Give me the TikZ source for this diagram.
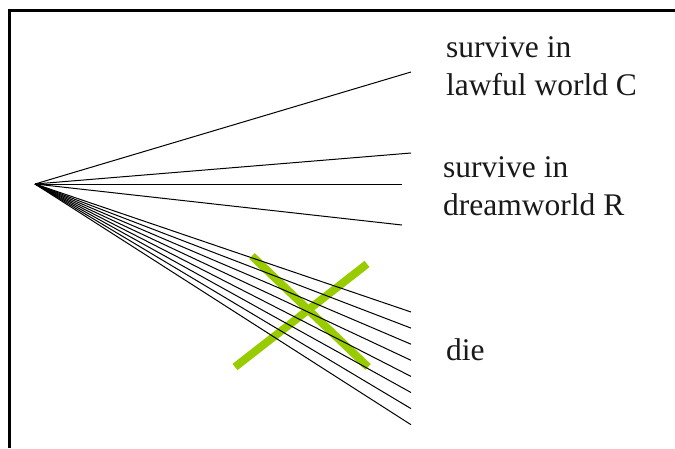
\documentclass[tikz,border=0pt]{standalone}
\usepackage{fontspec}
\setmainfont{Liberation Serif}
\definecolor{xGreen}{RGB}{153, 204, 0}
\usetikzlibrary{positioning}
\tikzset{
  ray/.style={line width=1pt, black},
  outcome/.style={anchor=base west, inner sep=0pt, align=left, text=black!90, font=\fontsize{31.5}{38}\selectfont},
  crossbar/.style={line width=8pt, xGreen},
  frame/.style={line width=3.6pt, black},
}
\begin{document}
\begin{tikzpicture}[x=1pt, y=-1pt]
  \useasboundingbox (0,0) rectangle (675,448);
  % frame, top and left edge only
  \draw[frame] (9.5,448) -- (9.5,10.5) -- (675,10.5);

  \coordinate (apex) at (35,184);
  \coordinate (c1) at (411,72);
  \coordinate (r1) at (411,153);
  \coordinate (r2) at (402,184);
  \coordinate (r3) at (402,225);

  % the cross over the dying branches
  \coordinate (xa) at (252,256);
  \coordinate (xb) at (368,367);
  \coordinate (xc) at (367,264);
  \coordinate (xd) at (235,367);
  \draw[crossbar] (xa) -- (xb);
  \draw[crossbar] (xc) -- (xd);

  \draw[ray] (apex) -- (c1);
  \foreach \e in {r1,r2,r3}
    \draw[ray] (apex) -- (\e);
  \foreach \i in {0,...,7} {
    \coordinate (die\i) at (411,{312+16.1*\i});
    \draw[ray] (apex) -- (die\i);
  }

  \node[outcome] (lawful) at (446,95) {survive in\\lawful world C};
  \node[outcome] (dream) at (443,215) {survive in\\dreamworld R};
  \node[outcome] (die) at (446,360) {die};
\end{tikzpicture}
\end{document}
